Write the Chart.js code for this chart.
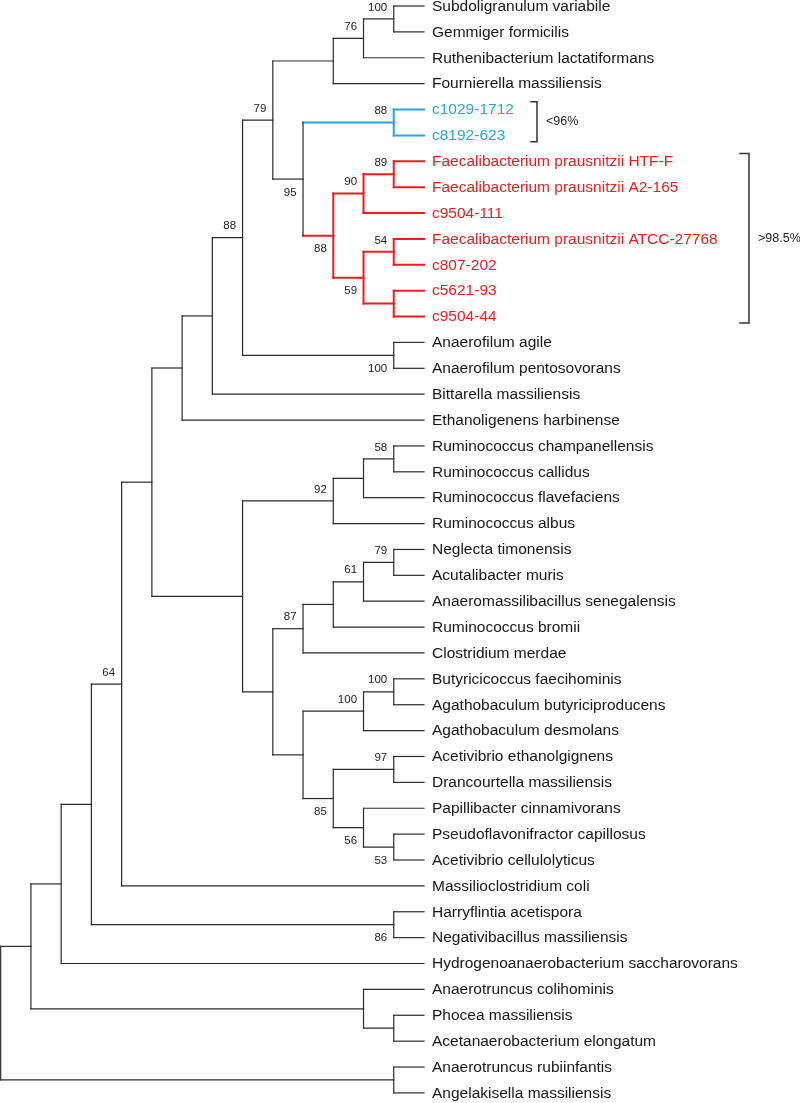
<!DOCTYPE html>
<html><head><meta charset="utf-8">
<script src="https://cdn.jsdelivr.net/npm/chart.js@4"></script>
<style>html,body{margin:0;padding:0;background:#fff;}canvas{display:block}</style>
</head><body>
<canvas id="c" width="800" height="1103"></canvas>
<script>
// ---- data ----
const leafNames = [
 'Subdoligranulum variabile','Gemmiger formicilis','Ruthenibacterium lactatiformans','Fournierella massiliensis',
 'c1029-1712','c8192-623',
 'Faecalibacterium prausnitzii HTF-F','Faecalibacterium prausnitzii A2-165','c9504-111',
 'Faecalibacterium prausnitzii ATCC-27768','c807-202','c5621-93','c9504-44',
 'Anaerofilum agile','Anaerofilum pentosovorans','Bittarella massiliensis','Ethanoligenens harbinense',
 'Ruminococcus champanellensis','Ruminococcus callidus','Ruminococcus flavefaciens','Ruminococcus albus',
 'Neglecta timonensis','Acutalibacter muris','Anaeromassilibacillus senegalensis','Ruminococcus bromii','Clostridium merdae',
 'Butyricicoccus faecihominis','Agathobaculum butyriciproducens','Agathobaculum desmolans',
 'Acetivibrio ethanolgignens','Drancourtella massiliensis','Papillibacter cinnamivorans',
 'Pseudoflavonifractor capillosus','Acetivibrio cellulolyticus','Massilioclostridium coli',
 'Harryflintia acetispora','Negativibacillus massiliensis','Hydrogenoanaerobacterium saccharovorans',
 'Anaerotruncus colihominis','Phocea massiliensis','Acetanaerobacterium elongatum',
 'Anaerotruncus rubiinfantis','Angelakisella massiliensis'
];
// parent internal node of each leaf
const leafParent = [12,12,11,10,14,14,17,17,16,19,19,20,20,21,21,7,6,25,25,24,23,30,30,29,28,27,33,33,32,35,35,36,37,37,4,38,38,2,39,40,40,41,41];
// internal nodes: depth (cladogram level), parent, bootstrap support
const nodeDepth  = [0,1,2,3,4,5,6,7,8,9,11,12,13,10,13,11,12,13,12,13,13,13,8,11,12,13,9,10,11,12,13,10,12,13,11,13,12,13,13,12,13,13];
const nodeParent = [-1,0,1,2,3,4,5,6,7,8,9,10,11,9,13,13,15,16,15,18,18,8,5,22,23,24,22,26,27,28,29,26,31,32,31,34,34,36,3,1,39,0];
const nodeSupport= [null,null,null,null,64,null,null,null,88,79,null,76,100,95,88,88,90,89,59,54,null,100,null,92,null,58,null,87,null,61,79,null,100,100,85,97,56,53,86,null,null,null];
const leafDepth = 14;
// highlighted clades (root node) and their identity-bracket labels
const cladeRoots  = [14, 15];
const cladeLabels = ['<96%', '>98.5%'];

// ---- styles / layout ----
const cladeColors = ['#27a6e0', '#ee1c1c'];
const lineColor = '#2b2b2b';
const FONT = '"Liberation Sans", Arial, sans-serif';
const bracketX = [537, 749];
const bracketTick = [6, 9];

// ---- structure ----
const kids = nodeDepth.map(() => ({nodes: [], leaves: []}));
nodeParent.forEach((p, i) => { if (p >= 0) kids[p].nodes.push(i); });
leafParent.forEach((p, i) => kids[p].leaves.push(i));
const nodeY = new Array(nodeDepth.length);
function yOf(n) {
  if (nodeY[n] !== undefined) return nodeY[n];
  const ys = [...kids[n].nodes.map(yOf), ...kids[n].leaves];
  nodeY[n] = (Math.min(...ys) + Math.max(...ys)) / 2;
  return nodeY[n];
}
nodeDepth.forEach((_, i) => yOf(i));
function cladeOfNode(n) {
  while (n >= 0) { const k = cladeRoots.indexOf(n); if (k >= 0) return k; n = nodeParent[n]; }
  return -1;
}
const cladeOfLeaf = i => cladeOfNode(leafParent[i]);

const segs = [];
nodeDepth.forEach((d, n) => {
  const k = cladeOfNode(n);
  const p = nodeParent[n];
  if (p >= 0) segs.push({pts: [{x: nodeDepth[p], y: nodeY[n]}, {x: d, y: nodeY[n]}], k});
  const ys = [...kids[n].nodes.map(c => nodeY[c]), ...kids[n].leaves];
  segs.push({pts: [{x: d, y: Math.min(...ys)}, {x: d, y: Math.max(...ys)}], k});
});
leafNames.forEach((_, i) => {
  segs.push({pts: [{x: nodeDepth[leafParent[i]], y: i}, {x: leafDepth, y: i}], k: cladeOfLeaf(i)});
});

const datasets = segs.map(s => ({
  data: s.pts, showLine: true, pointRadius: 0, pointHoverRadius: 0,
  borderColor: s.k >= 0 ? cladeColors[s.k] : lineColor,
  borderWidth: s.k >= 0 ? 2 : 1.2, borderCapStyle: 'square', tension: 0, fill: false, clip: false
}));

const textPlugin = {
  id: 'treeText',
  afterDatasetsDraw(chart) {
    const ctx = chart.ctx, xs = chart.scales.x, ys = chart.scales.y;
    ctx.save();
    // leaf labels
    ctx.font = '15.5px ' + FONT;
    ctx.textAlign = 'left'; ctx.textBaseline = 'middle';
    leafNames.forEach((name, i) => {
      const k = cladeOfLeaf(i);
      ctx.fillStyle = k >= 0 ? cladeColors[k] : '#161616';
      ctx.fillText(name, xs.getPixelForValue(leafDepth) + 8, ys.getPixelForValue(i) + 0.5);
    });
    // bootstrap values
    ctx.font = '11.5px ' + FONT;
    ctx.fillStyle = '#222';
    ctx.textAlign = 'right';
    nodeSupport.forEach((v, n) => {
      if (v === null) return;
      const above = nodeY[n] < nodeY[nodeParent[n]];
      ctx.fillText(String(v), xs.getPixelForValue(nodeDepth[n]) - 6.5,
        ys.getPixelForValue(nodeY[n]) + (above ? -11.5 : 13.5));
    });
    // identity brackets
    cladeRoots.forEach((r, k) => {
      const members = leafNames.map((_, i) => i).filter(i => cladeOfLeaf(i) === k);
      const y0 = ys.getPixelForValue(Math.min(...members) - 0.3);
      const y1 = ys.getPixelForValue(Math.max(...members) + 0.25);
      const x = bracketX[k];
      ctx.strokeStyle = '#333'; ctx.lineWidth = 1.5; ctx.lineCap = 'square';
      ctx.beginPath();
      ctx.moveTo(x - bracketTick[k], y0); ctx.lineTo(x, y0); ctx.lineTo(x, y1); ctx.lineTo(x - bracketTick[k], y1);
      ctx.stroke();
      ctx.font = '12.5px ' + FONT; ctx.fillStyle = '#222'; ctx.textAlign = 'left'; ctx.textBaseline = 'middle';
      ctx.fillText(cladeLabels[k], x + 9, (y0 + y1) / 2);
    });
    ctx.restore();
  }
};

new Chart(document.getElementById('c'), {
  type: 'scatter',
  data: {datasets},
  options: {
    responsive: false, animation: false, events: [],
    layout: {padding: 0},
    plugins: {legend: {display: false}, tooltip: {enabled: false}},
    scales: {
      x: {type: 'linear', display: false, min: -0.023, max: 26.436},
      y: {type: 'linear', display: false, reverse: true, min: -0.232, max: 42.39}
    }
  },
  plugins: [textPlugin]
});
</script>
</body></html>
